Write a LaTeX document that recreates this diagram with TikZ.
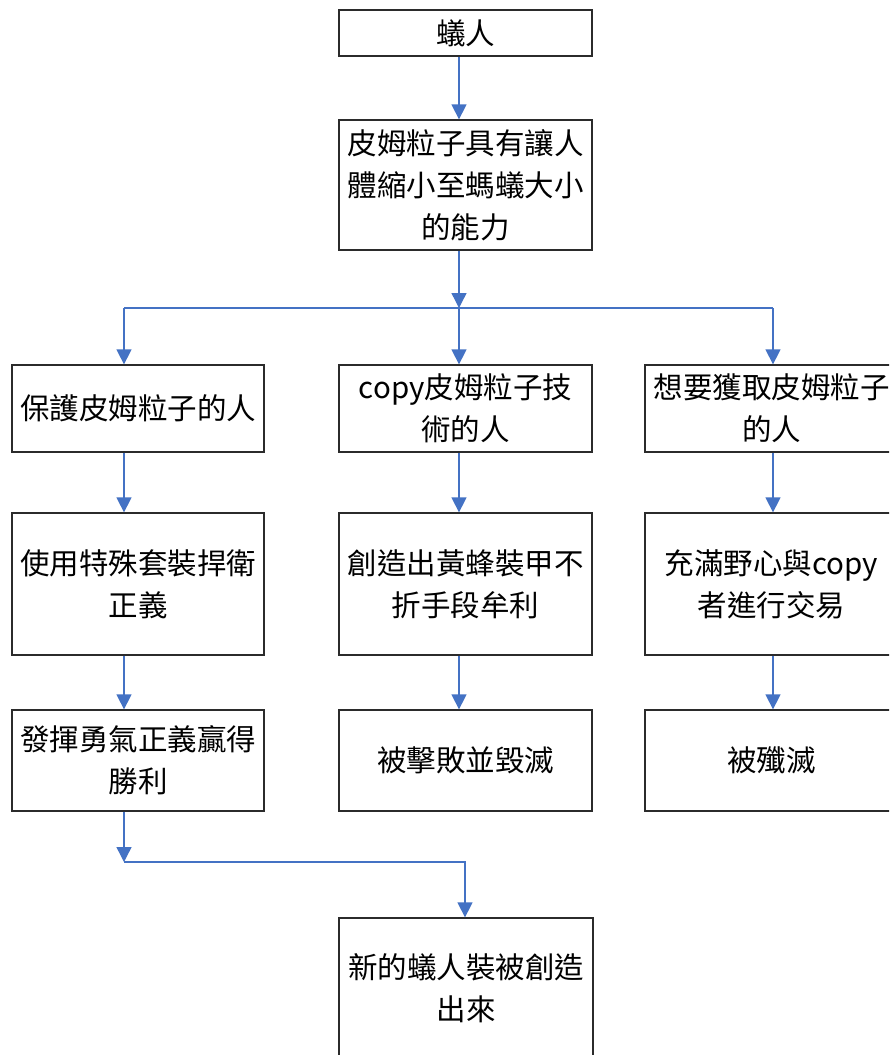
\documentclass[tikz,border=0pt]{standalone}
\usepackage{fontspec}
\setmainfont{Noto Sans CJK TC}
\usetikzlibrary{arrows.meta,calc}
\definecolor{lineblue}{HTML}{4472C4}
\definecolor{boxline}{HTML}{2B2B2B}
\tikzset{
  box/.style={draw=boxline, line width=1.3pt, fill=white, align=center, inner sep=0pt,
    font=\fontsize{29.5pt}{42pt}\selectfont, text=black},
  conn/.style={draw=lineblue, line width=1.4pt},
  arr/.style={conn, -{Triangle[width=15pt,length=15pt]}}
}
\begin{document}
\begin{tikzpicture}[x=1pt,y=-1pt]
\useasboundingbox (0,0) rectangle (889,1055);
\clip (0,0) rectangle (889,1055);
\fill[white] (0,0) rectangle (889,1055);
% column x coordinates for connectors
\coordinate (cL) at (124,0);
\coordinate (cM) at (459,0);
\coordinate (cR) at (773,0);
\coordinate (cB) at (465,0);
\coordinate (j1) at (459,308);
\coordinate (j2) at (124,862);
% nodes
\node[box, minimum width=253pt, minimum height=46pt] (b1) at (465.5,33) {蟻人};
\node[box, minimum width=253pt, minimum height=130pt] (b2) at (465.5,185) {皮姆粒子具有讓人\\體縮小至螞蟻大小\\的能力};
\node[box, minimum width=252pt, minimum height=87pt] (r1L) at (138,408.5) {保護皮姆粒子的人};
\node[box, minimum width=253pt, minimum height=87pt] (r1M) at (465.5,408.5) {copy皮姆粒子技\\術的人};
\node[box, minimum width=253pt, minimum height=87pt] (r1R) at (771.5,408.5) {想要獲取皮姆粒子\\的人};
\node[box, minimum width=252pt, minimum height=142pt] (r2L) at (138,584) {使用特殊套裝捍衛\\正義};
\node[box, minimum width=253pt, minimum height=142pt] (r2M) at (465.5,584) {創造出黃蜂裝甲不\\折手段牟利};
\node[box, minimum width=253pt, minimum height=142pt] (r2R) at (771.5,584) {充滿野心與copy\\者進行交易};
\node[box, minimum width=252pt, minimum height=101pt] (r3L) at (138,760.5) {發揮勇氣正義贏得\\勝利};
\node[box, minimum width=253pt, minimum height=101pt] (r3M) at (465.5,760.5) {被擊敗並毀滅};
\node[box, minimum width=253pt, minimum height=101pt] (r3R) at (771.5,760.5) {被殲滅};
\node[box, minimum width=254pt, minimum height=140pt] (bf) at (466,988) {新的蟻人裝被創造\\出來};
% connectors
\draw[arr] (b1.south -| cM) -- (b2.north -| cM);
\draw[arr] (b2.south -| cM) -- (j1);
\draw[conn] (j1 -| cL) -- (j1 -| cR);
\draw[arr] (j1 -| cL) -- (r1L.north -| cL);
\draw[arr] (j1) -- (r1M.north -| cM);
\draw[arr] (j1 -| cR) -- (r1R.north -| cR);
\draw[arr] (r1L.south -| cL) -- (r2L.north -| cL);
\draw[arr] (r1M.south -| cM) -- (r2M.north -| cM);
\draw[arr] (r1R.south -| cR) -- (r2R.north -| cR);
\draw[arr] (r2L.south -| cL) -- (r3L.north -| cL);
\draw[arr] (r2M.south -| cM) -- (r3M.north -| cM);
\draw[arr] (r2R.south -| cR) -- (r3R.north -| cR);
\draw[arr] (r3L.south -| cL) -- (j2);
\draw[arr] (j2) -| (bf.north -| cB);
\end{tikzpicture}
\end{document}
